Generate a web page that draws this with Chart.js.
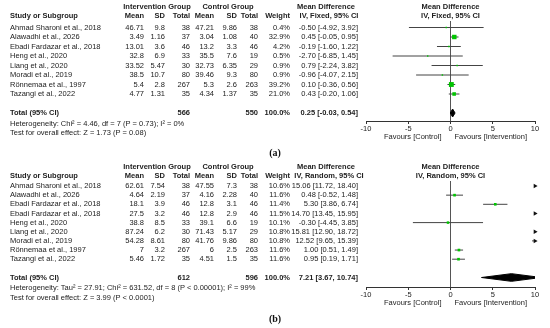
<!DOCTYPE html>
<html>
<head>
<meta charset="utf-8">
<script src="https://cdn.jsdelivr.net/npm/chart.js@4"></script>
<style>
  html, body { margin: 0; padding: 0; background: #fff; }
  #wrap { position: relative; width: 550px; height: 328px; }
  canvas { position: absolute; left: 0; }
  #panelA { top: 0; }
  #panelB { top: 160px; }
</style>
</head>
<body>
<div id="wrap">
  <canvas id="panelA" width="550" height="160"></canvas>
  <canvas id="panelB" width="550" height="168"></canvas>
</div>
<script>
// ── Panel (a): fixed effect ─────────────────────────────────────────────
const studiesA = ['Ahmad Sharoni et al., 2018', 'Alawadhi et al., 2026', 'Ebadi Fardazar et al., 2018',
    'Heng et al., 2020', 'Liang et al., 2020', 'Moradi et al., 2019', 'Rönnemaa et al., 1997', 'Tazangi et al., 2022'];
const intMeanA = [46.71, 3.49, 13.01, 32.8, 33.52, 38.5, 5.4, 4.77];
const intSdA   = [9.8, 1.16, 3.6, 6.9, 5.47, 10.7, 2.8, 1.31];
const intNA    = [38, 37, 46, 33, 30, 80, 267, 35];
const ctlMeanA = [47.21, 3.04, 13.2, 35.5, 32.73, 39.46, 5.3, 4.34];
const ctlSdA   = [9.86, 1.08, 3.3, 7.6, 6.35, 9.3, 2.6, 1.37];
const ctlNA    = [38, 40, 46, 19, 29, 80, 263, 35];
const weightA  = [0.4, 32.9, 4.2, 0.5, 0.9, 0.9, 39.2, 21.0];
const mdA      = [-0.50, 0.45, -0.19, -2.70, 0.79, -0.96, 0.10, 0.43];
const loA      = [-4.92, -0.05, -1.60, -6.85, -2.24, -4.07, -0.36, -0.20];
const hiA      = [3.92, 0.95, 1.22, 1.45, 3.82, 2.15, 0.56, 1.06];
const totalA   = { n1: 566, n2: 550, md: 0.25, lo: -0.03, hi: 0.54 };
const statsA   = ['Heterogeneity: Chi² = 4.46, df = 7 (P = 0.73); I² = 0%',
    'Test for overall effect: Z = 1.73 (P = 0.08)'];

// ── Panel (b): random effects ───────────────────────────────────────────
const studiesB = ['Ahmad Sharoni et al., 2018', 'Alawadhi et al., 2026', 'Ebadi Fardazar et al., 2018',
    'Ebadi Fardazar et al., 2018', 'Heng et al., 2020', 'Liang et al., 2020', 'Moradi et al., 2019',
    'Rönnemaa et al., 1997', 'Tazangi et al., 2022'];
const intMeanB = [62.61, 4.64, 18.1, 27.5, 38.8, 87.24, 54.28, 7, 5.46];
const intSdB   = [7.54, 2.19, 3.9, 3.2, 8.5, 6.2, 8.61, 3.2, 1.72];
const intNB    = [38, 37, 46, 46, 33, 30, 80, 267, 35];
const ctlMeanB = [47.55, 4.16, 12.8, 12.8, 39.1, 71.43, 41.76, 6, 4.51];
const ctlSdB   = [7.3, 2.28, 3.1, 2.9, 6.6, 5.17, 9.86, 2.5, 1.5];
const ctlNB    = [38, 40, 46, 46, 19, 29, 80, 263, 35];
const weightB  = [10.6, 11.6, 11.4, 11.5, 10.1, 10.8, 10.8, 11.6, 11.6];
const mdB      = [15.06, 0.48, 5.30, 14.70, -0.30, 15.81, 12.52, 1.00, 0.95];
const loB      = [11.72, -0.52, 3.86, 13.45, -4.45, 12.90, 9.65, 0.51, 0.19];
const hiB      = [18.40, 1.48, 6.74, 15.95, 3.85, 18.72, 15.39, 1.49, 1.71];
const totalB   = { n1: 612, n2: 596, md: 7.21, lo: 3.67, hi: 10.74 };
const statsB   = ['Heterogeneity: Tau² = 27.91; Chi² = 631.52, df = 8 (P < 0.00001); I² = 99%',
    'Test for overall effect: Z = 3.99 (P < 0.0001)'];

const xTicks = [-10, -5, 0, 5, 10];
const FONT = '"Liberation Sans", Arial, sans-serif';
const TEXT = '#222';

// right edges of the table columns
const COL = { intMean: 144, intSd: 165, intN: 190, ctlMean: 214, ctlSd: 237, ctlN: 258, weight: 290, md: 358 };

function boxRadius(w) { return Math.max(1, 0.55 * Math.sqrt(w)); }

function forest(id, p) {
    const rows = p.studies.map((_, i) => i);
    const totalRow = p.studies.length + 1;
    const xMin = xTicks[0], xMax = xTicks[xTicks.length - 1];

    const ciSets = rows.map(i => ({
        type: 'line',
        data: [{ x: p.lo[i], y: i }, { x: p.hi[i], y: i }],
        borderColor: '#444', borderWidth: 1, pointRadius: 0, order: 3
    }));

    const boxes = {
        type: 'scatter',
        data: rows.map(i => ({ x: p.md[i], y: i })),
        pointStyle: 'rect',
        pointRadius: p.weight.map(boxRadius),
        backgroundColor: '#00c400', borderWidth: 0, order: 1
    };

    // studies running off the right of the axis get an arrow head
    const arrows = {
        type: 'scatter',
        data: rows.filter(i => p.hi[i] > xMax).map(i => ({ x: xMax, y: i })),
        pointStyle: 'triangle', pointRotation: 90, pointRadius: 2.6,
        backgroundColor: '#111', borderWidth: 0, clip: false, order: 0
    };

    const t = p.total;
    const diamond = {
        type: 'line',
        data: [{ x: t.lo, y: totalRow }, { x: t.md, y: totalRow - 0.42 }, { x: t.hi, y: totalRow },
               { x: t.md, y: totalRow + 0.42 }, { x: t.lo, y: totalRow }],
        borderColor: '#000', backgroundColor: '#000', borderWidth: 1,
        fill: 'shape', pointRadius: 0, tension: 0, order: 2
    };

    const H = p.height;
    const chartH = p.bottom - p.top;
    const yMin = -p.firstRow / p.rowPx;
    const yMax = yMin + chartH / p.rowPx;

    const tablePlugin = {
        id: 'forestTable',
        afterDraw(chart) {
            const { ctx, chartArea: a, scales: { x, y } } = chart;
            const put = (s, px, py, align, bold) => {
                ctx.font = (bold ? 'bold ' : '') + '7.5px ' + FONT;
                ctx.textAlign = align;
                ctx.fillText(s, px, py);
            };
            const x0 = x.getPixelForValue(0);
            const h1 = a.top - 14.5, h2 = a.top - 5.5;
            ctx.save();
            ctx.fillStyle = TEXT;
            ctx.textBaseline = 'middle';

            put('Intervention Group', 157, h1, 'center', true);
            put('Control Group', 228, h1, 'center', true);
            put('Mean Difference', 326, h1, 'center', true);
            put('Mean Difference', x0, h1, 'center', true);
            put('Study or Subgroup', 10, h2, 'left', true);
            put('Mean', COL.intMean, h2, 'right', true);
            put('SD', COL.intSd, h2, 'right', true);
            put('Total', COL.intN, h2, 'right', true);
            put('Mean', COL.ctlMean, h2, 'right', true);
            put('SD', COL.ctlSd, h2, 'right', true);
            put('Total', COL.ctlN, h2, 'right', true);
            put('Weight', COL.weight, h2, 'right', true);
            put(p.method, 329, h2, 'center', true);
            put(p.method, x0, h2, 'center', true);

            rows.forEach(i => {
                const py = y.getPixelForValue(i);
                put(p.studies[i], 10, py, 'left');
                put(String(p.intMean[i]), COL.intMean, py, 'right');
                put(String(p.intSd[i]), COL.intSd, py, 'right');
                put(String(p.intN[i]), COL.intN, py, 'right');
                put(String(p.ctlMean[i]), COL.ctlMean, py, 'right');
                put(String(p.ctlSd[i]), COL.ctlSd, py, 'right');
                put(String(p.ctlN[i]), COL.ctlN, py, 'right');
                put(p.weight[i].toFixed(1) + '%', COL.weight, py, 'right');
                put(p.md[i].toFixed(2) + ' [' + p.lo[i].toFixed(2) + ', ' + p.hi[i].toFixed(2) + ']', COL.md, py, 'right');
            });

            const ty = y.getPixelForValue(totalRow);
            put('Total (95% CI)', 10, ty, 'left', true);
            put(String(t.n1), COL.intN, ty, 'right', true);
            put(String(t.n2), COL.ctlN, ty, 'right', true);
            put('100.0%', COL.weight, ty, 'right', true);
            put(t.md.toFixed(2) + ' [' + t.lo.toFixed(2) + ', ' + t.hi.toFixed(2) + ']', COL.md, ty, 'right', true);
            put(p.stats[0], 10, ty + 10.5, 'left');
            put(p.stats[1], 10, ty + 20, 'left');

            put('Favours [Control]', x0 - 9, a.bottom + 15.5, 'right');
            put('Favours [Intervention]', x0 + 4, a.bottom + 15.5, 'left');

            ctx.font = 'bold 10px "Liberation Serif", serif';
            ctx.textAlign = 'center';
            ctx.fillStyle = '#111';
            ctx.fillText(p.label, 275, a.bottom + 32);
            ctx.restore();
        }
    };

    new Chart(document.getElementById(id), {
        type: 'scatter',
        data: { datasets: [boxes, arrows, diamond, ...ciSets] },
        options: {
            responsive: false,
            animation: false,
            devicePixelRatio: 1,
            layout: { padding: { left: 366, right: 550 - 535, top: p.top, bottom: H - 16 - p.bottom } },
            plugins: { legend: { display: false }, tooltip: { enabled: false } },
            scales: {
                x: {
                    type: 'linear', min: xMin, max: xMax,
                    afterBuildTicks: s => { s.ticks = xTicks.map(v => ({ value: v })); },
                    afterFit: s => { s.height = 16; },
                    ticks: { color: TEXT, font: { size: 7.5, family: FONT }, padding: 0, maxRotation: 0 },
                    grid: {
                        color: c => (c.tick && c.tick.value === 0 ? '#555' : 'rgba(0,0,0,0)'),
                        tickColor: '#333', tickLength: 3, lineWidth: 1
                    },
                    border: { display: true, color: '#333', width: 1 }
                },
                y: { type: 'linear', reverse: true, min: yMin, max: yMax, display: false }
            }
        },
        plugins: [tablePlugin]
    });
}

forest('panelA', {
    studies: studiesA, intMean: intMeanA, intSd: intSdA, intN: intNA,
    ctlMean: ctlMeanA, ctlSd: ctlSdA, ctlN: ctlNA, weight: weightA,
    md: mdA, lo: loA, hi: hiA, total: totalA, stats: statsA,
    method: 'IV, Fixed, 95% CI', label: '(a)',
    height: 160, top: 21, bottom: 121, firstRow: 6.5, rowPx: 9.5
});

forest('panelB', {
    studies: studiesB, intMean: intMeanB, intSd: intSdB, intN: intNB,
    ctlMean: ctlMeanB, ctlSd: ctlSdB, ctlN: ctlNB, weight: weightB,
    md: mdB, lo: loB, hi: hiB, total: totalB, stats: statsB,
    method: 'IV, Random, 95% CI', label: '(b)',
    height: 168, top: 21, bottom: 127, firstRow: 5, rowPx: 9.15
});
</script>
</body>
</html>
